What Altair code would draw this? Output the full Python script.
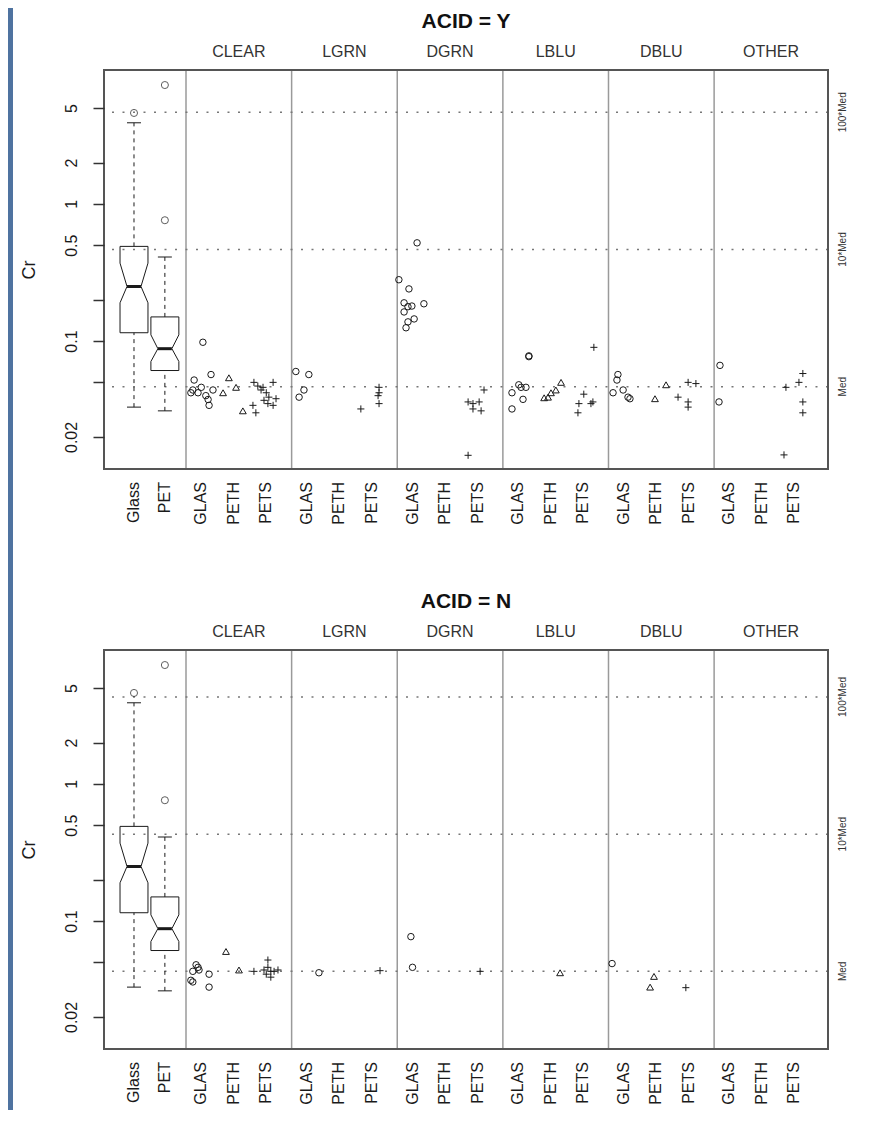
import altair as alt
import pandas as pd

# ---------------- data ----------------
COLORS = ["CLEAR", "LGRN", "DGRN", "LBLU", "DBLU", "OTHER"]
TYPES = ["GLAS", "PETH", "PETS"]
Y_TICKS = [0.02, 0.05, 0.1, 0.2, 0.5, 1, 2, 5]

BOX_NAMES = ["Glass", "PET"]
BOX_Q1 = [0.115, 0.061]
BOX_MED = [0.25, 0.088]
BOX_Q3 = [0.49, 0.15]
BOX_NOTCH_LO = [0.19, 0.071]
BOX_NOTCH_HI = [0.37, 0.111]
BOX_WHISK_LO = [0.033, 0.031]
BOX_WHISK_HI = [3.9, 0.41]
OUT_NAMES = ["Glass", "PET", "PET"]
OUT_VALUES = [4.6, 7.35, 0.76]

MED = {"Y": 0.0465, "N": 0.043}
MED_MULT = [1, 10, 100]
MED_LABELS = ["Med", "10*Med", "100*Med"]

# (colour, type) -> list of (Cr, horizontal jitter)
POINTS_Y = {
    ("CLEAR", "GLAS"): [(0.098, 0.05), (0.057, 0.30), (0.052, -0.22), (0.044, -0.26), (0.042, -0.10),
                        (0.046, 0.0), (0.040, 0.14), (0.0375, 0.21), (0.034, 0.24), (0.044, 0.36), (0.042, -0.32)],
    ("CLEAR", "PETH"): [(0.054, -0.15), (0.042, -0.33), (0.046, 0.07), (0.031, 0.28)],
    ("CLEAR", "PETS"): [(0.050, -0.38), (0.047, -0.26), (0.050, 0.21), (0.044, -0.16), (0.042, 0.0),
                        (0.039, 0.08), (0.038, 0.30), (0.035, 0.05), (0.034, 0.21), (0.034, -0.41),
                        (0.030, -0.32), (0.037, -0.07), (0.046, -0.10)],
    ("LGRN", "GLAS"): [(0.060, -0.34), (0.057, 0.06), (0.044, -0.09), (0.039, -0.24)],
    ("LGRN", "PETS"): [(0.032, -0.34), (0.046, 0.22), (0.042, 0.22), (0.040, 0.19), (0.035, 0.22)],
    ("DGRN", "GLAS"): [(0.28, -0.42), (0.24, -0.11), (0.52, 0.14), (0.19, -0.26), (0.187, 0.35),
                       (0.178, -0.14), (0.18, -0.02), (0.145, 0.05), (0.138, -0.14), (0.125, -0.20),
                       (0.163, -0.26)],
    ("DGRN", "PETS"): [(0.044, 0.20), (0.036, -0.29), (0.035, -0.14), (0.036, 0.05), (0.031, 0.11),
                       (0.032, -0.14), (0.0147, -0.29)],
    ("LBLU", "GLAS"): [(0.077, 0.33), (0.078, 0.33), (0.042, -0.19), (0.046, 0.09), (0.046, 0.24),
                       (0.0376, 0.15), (0.032, -0.19), (0.048, 0.02)],
    ("LBLU", "PETH"): [(0.0386, -0.20), (0.042, 0.01), (0.044, 0.16), (0.050, 0.32), (0.039, -0.08)],
    ("LBLU", "PETS"): [(0.041, 0.02), (0.035, -0.13), (0.030, -0.16), (0.035, 0.24), (0.090, 0.33),
                       (0.036, 0.30)],
    ("DBLU", "GLAS"): [(0.057, -0.18), (0.052, -0.21), (0.042, -0.33), (0.044, -0.02), (0.039, 0.13),
                       (0.038, 0.19)],
    ("DBLU", "PETH"): [(0.038, -0.04), (0.048, 0.30)],
    ("DBLU", "PETS"): [(0.039, -0.33), (0.050, -0.02), (0.049, 0.22), (0.036, -0.02), (0.033, -0.02)],
    ("OTHER", "GLAS"): [(0.0665, -0.29), (0.036, -0.32)],
    ("OTHER", "PETS"): [(0.046, -0.26), (0.058, 0.26), (0.050, 0.14), (0.036, 0.26), (0.030, 0.26),
                        (0.0148, -0.32)],
}

POINTS_N = {
    ("CLEAR", "GLAS"): [(0.048, -0.16), (0.046, -0.10), (0.043, -0.26), (0.037, -0.32), (0.036, -0.26),
                        (0.044, -0.07), (0.041, 0.24), (0.033, 0.24)],
    ("CLEAR", "PETH"): [(0.060, -0.24), (0.044, 0.16)],
    ("CLEAR", "PETS"): [(0.043, -0.38), (0.052, 0.05), (0.046, 0.05), (0.043, 0.14), (0.041, 0.0),
                        (0.043, 0.24), (0.039, 0.14), (0.044, -0.07), (0.044, 0.36)],
    ("LGRN", "GLAS"): [(0.042, 0.37)],
    ("LGRN", "PETS"): [(0.0435, 0.25)],
    ("DGRN", "GLAS"): [(0.077, -0.05), (0.046, 0.0)],
    ("DGRN", "PETS"): [(0.043, 0.08)],
    ("LBLU", "PETH"): [(0.042, 0.29)],
    ("DBLU", "GLAS"): [(0.049, -0.36)],
    ("DBLU", "PETH"): [(0.0395, -0.07), (0.033, -0.19)],
    ("DBLU", "PETS"): [(0.0327, -0.09)],
}

# ---------------- layout (x axis in slot units) ----------------
W, H = 724, 399
GAP = 181
X_MIN, X_MAX = 0.077, 22.354
Y_MIN, Y_MAX = 0.01168, 9.46
BOX_POS = [1.0, 1.95]
GROUP_START, GROUP_STEP, FIRST_OFFSET = 2.6, 3.25, 0.47
BOX_HALF, NOTCH_HALF = 0.43, 0.215

FONT = "Liberation Sans"
INK = "#1a1a1a"


def cat_pos(g, k):
    return GROUP_START + GROUP_STEP * g + FIRST_OFFSET + k


divider_pos = [GROUP_START + GROUP_STEP * g for g in range(len(COLORS))]
strip_pos = [d + GROUP_STEP / 2 for d in divider_pos[:-1]] + [(divider_pos[-1] + X_MAX) / 2]

xlab_text = BOX_NAMES + [t for _ in COLORS for t in TYPES]
xlab_pos = BOX_POS + [cat_pos(g, k) for g in range(len(COLORS)) for k in range(len(TYPES))]

xs = alt.Scale(domain=[X_MIN, X_MAX], nice=False, zero=False)
ys = alt.Scale(type="log", domain=[Y_MIN, Y_MAX], nice=False)

y_axis = alt.Axis(
    values=Y_TICKS,
    labelExpr="datum.value == 0.05 || datum.value == 0.2 ? '' : format(datum.value, '~g')",
    tickSize=11, tickColor="#333", tickWidth=1.5, domain=False, grid=False,
    labelFontSize=16, labelAngle=270, labelAlign="center", labelBaseline="bottom",
    labelPadding=14, labelColor=INK, labelOverlap=False, labelFlush=False,
    title="Cr", titleFontSize=18, titleFontWeight="normal", titleColor=INK,
    titleAngle=270, titleX=-75, titleY=H / 2, titleAlign="center", titleBaseline="middle",
    zindex=1,
)


def X(field="pos"):
    return alt.X(f"{field}:Q", scale=xs, axis=None)


def Y(field="Cr"):
    return alt.Y(f"{field}:Q", scale=ys, axis=y_axis)


def panel(acid, points, with_bg):
    one = pd.DataFrame({"a": [0]})
    layers = []
    if with_bg:
        # white slide panel behind both plots
        layers.append(alt.Chart(one).mark_rect(color="white").encode(
            x=alt.value(-91), x2=alt.value(767), y=alt.value(-64), y2=alt.value(2 * H + GAP + 63)))

    dividers = alt.Chart(pd.DataFrame({"pos": divider_pos})).mark_rule(
        color="#9a9a9a", strokeWidth=1.5).encode(x=X())

    med_df = pd.DataFrame({"Cr": [MED[acid] * m for m in MED_MULT], "lab": MED_LABELS})
    med_rules = alt.Chart(med_df).mark_rule(
        color="#777", strokeWidth=1.5, strokeDash=[2, 8.5]).encode(y=Y())
    med_text = alt.Chart(med_df).mark_text(
        fontSize=10, angle=270, align="center", baseline="middle", color="#333").encode(
        x=alt.value(W + 15), y=Y(), text="lab:N")

    # boxplot pieces
    whisk_rows, cap_rows, outline_rows, med_rows = [], [], [], []
    for i, name in enumerate(BOX_NAMES):
        p = BOX_POS[i]
        whisk_rows.append({"pos": p, "Cr": BOX_Q3[i], "Cr2": BOX_WHISK_HI[i]})
        whisk_rows.append({"pos": p, "Cr": BOX_WHISK_LO[i], "Cr2": BOX_Q1[i]})
        for v in (BOX_WHISK_LO[i], BOX_WHISK_HI[i]):
            cap_rows.append({"xa": p - NOTCH_HALF, "xb": p + NOTCH_HALF, "Cr": v})
        med_rows.append({"xa": p - NOTCH_HALF, "xb": p + NOTCH_HALF, "Cr": BOX_MED[i]})
        verts = [
            (p - BOX_HALF, BOX_Q3[i]), (p + BOX_HALF, BOX_Q3[i]), (p + BOX_HALF, BOX_NOTCH_HI[i]),
            (p + NOTCH_HALF, BOX_MED[i]), (p + BOX_HALF, BOX_NOTCH_LO[i]), (p + BOX_HALF, BOX_Q1[i]),
            (p - BOX_HALF, BOX_Q1[i]), (p - BOX_HALF, BOX_NOTCH_LO[i]), (p - NOTCH_HALF, BOX_MED[i]),
            (p - BOX_HALF, BOX_NOTCH_HI[i]), (p - BOX_HALF, BOX_Q3[i]),
        ]
        for j, (vx, vy) in enumerate(verts):
            outline_rows.append({"box": name, "i": j, "pos": vx, "Cr": vy})

    whiskers = alt.Chart(pd.DataFrame(whisk_rows)).mark_rule(
        color=INK, strokeWidth=1, strokeDash=[4, 4]).encode(x=X(), y=Y(), y2="Cr2:Q")
    caps = alt.Chart(pd.DataFrame(cap_rows)).mark_rule(color=INK, strokeWidth=1).encode(
        x=X("xa"), x2="xb:Q", y=Y())
    outline = alt.Chart(pd.DataFrame(outline_rows)).mark_line(color=INK, strokeWidth=1).encode(
        x=X(), y=Y(), order="i:Q", detail="box:N")
    medians = alt.Chart(pd.DataFrame(med_rows)).mark_rule(color=INK, strokeWidth=3).encode(
        x=X("xa"), x2="xb:Q", y=Y())
    out_df = pd.DataFrame({"pos": [BOX_POS[BOX_NAMES.index(n)] for n in OUT_NAMES], "Cr": OUT_VALUES})
    outliers = alt.Chart(out_df).mark_point(
        shape="circle", filled=False, size=50, color=INK, strokeWidth=1).encode(x=X(), y=Y())

    rows = []
    for (color, typ), pts in points.items():
        g, k = COLORS.index(color), TYPES.index(typ)
        for cr, jit in pts:
            rows.append({"color": color, "type": typ, "Cr": cr, "pos": cat_pos(g, k) + jit})
    pts_chart = alt.Chart(pd.DataFrame(rows)).mark_point(
        filled=False, color=INK, strokeWidth=1, opacity=1).encode(
        x=X(), y=Y(),
        shape=alt.Shape("type:N", scale=alt.Scale(domain=TYPES,
                                                  range=["circle", "triangle-up", "M-1,0H1M0,-1V1"]),
                        legend=None),
        size=alt.Size("type:O", scale=alt.Scale(domain=TYPES, range=[42, 50, 110]), legend=None),
    )

    frame = alt.Chart(one).mark_rect(fillOpacity=0, stroke="#555", strokeWidth=2).encode(
        x=alt.value(0), x2=alt.value(W), y=alt.value(0), y2=alt.value(H))

    strips = alt.Chart(pd.DataFrame({"pos": strip_pos, "color": COLORS})).mark_text(
        fontSize=16, color="#333", baseline="middle").encode(
        x=X(), y=alt.value(-18), text="color:N")

    title = alt.Chart(pd.DataFrame({"t": [f"ACID = {acid}"]})).mark_text(
        fontSize=21, fontWeight="bold", color="#111", baseline="middle").encode(
        x=alt.value(W / 2), y=alt.value(-48), text="t:N")

    xlabels = alt.Chart(pd.DataFrame({"pos": xlab_pos, "label": xlab_text})).mark_text(
        fontSize=16, angle=270, align="right", baseline="middle", color=INK).encode(
        x=X(), y=alt.value(H + 13), text="label:N")

    layers += [dividers, med_rules, whiskers, caps, outline, medians, outliers,
               pts_chart, frame, strips, title, xlabels, med_text]
    return alt.layer(*layers).properties(width=W, height=H)


top = panel("Y", POINTS_Y, True)
bottom = panel("N", POINTS_N, False)

chart = alt.vconcat(top, bottom, spacing=GAP, bounds="flush").properties(
    background="#4f73a0",
    padding={"left": 4, "top": -3, "right": -3, "bottom": -3},
).configure_view(stroke="transparent").configure(font=FONT)

chart.save("out.html", embed_options={"renderer": "svg", "actions": False})
